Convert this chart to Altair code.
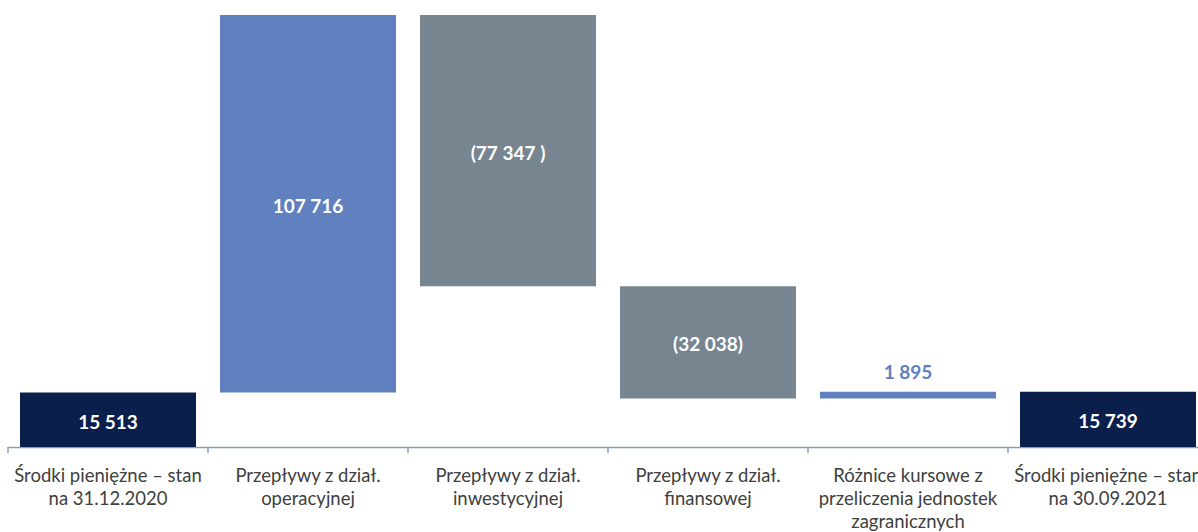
import altair as alt
import pandas as pd

categories = [
    "Środki pieniężne – stan\nna 31.12.2020",
    "Przepływy z dział.\noperacyjnej",
    "Przepływy z dział.\ninwestycyjnej",
    "Przepływy z dział.\nfinansowej",
    "Różnice kursowe z\nprzeliczenia jednostek\nzagranicznych",
    "Środki pieniężne – stan\nna 30.09.2021",
]
values = [15513, 107716, -77347, -32038, 1895, 15739]
is_total = [True, False, False, False, False, True]
value_labels = ["15 513", "107 716", "(77 347 )", "(32 038)", "1 895", "15 739"]

rows = []
running = 0
for cat, v, t, lab in zip(categories, values, is_total, value_labels):
    if t:
        start, end = 0, v
    else:
        start, end = running, running + v
    running = end
    kind = "total" if t else ("increase" if v > 0 else "decrease")
    rows.append({"cat": cat, "value": v, "start": start, "end": end,
                 "mid": (start + end) / 2, "kind": kind, "label": lab})
df = pd.DataFrame(rows)

FONT = "Lato"
x_scale = alt.Scale(range=[0, 1200], paddingInner=0.12, paddingOuter=0.06)
y_scale = alt.Scale(domain=[0, 127500], nice=False, zero=True)

base = alt.Chart(df)

x_enc = alt.X(
    "cat:N", sort=categories, scale=x_scale, title=None,
    axis=alt.Axis(
        labelAngle=0, ticks=False, domainColor="#8aa0b4", domainWidth=1.5,
        labelExpr="split(datum.label, '\\n')", labelFont=FONT, labelFontSize=18.5,
        labelColor="#404040", labelLineHeight=23, labelPadding=19,
        labelLimit=0, labelBaseline="top", grid=False,
    ),
)

bars = base.mark_bar(strokeWidth=0).encode(
    x=x_enc,
    y=alt.Y("start:Q", scale=y_scale, axis=None),
    y2="end:Q",
    color=alt.Color(
        "kind:N",
        scale=alt.Scale(domain=["total", "increase", "decrease"],
                        range=["#0b1f4d", "#6180bf", "#778591"]),
        legend=None,
    ),
)

ticks = base.mark_rule(xOffset=-12, color="#8aa0b4", strokeWidth=1.5).encode(
    x=alt.X("cat:N", sort=categories, bandPosition=0),
    y=alt.value(447),
    y2=alt.value(453),
)

inside = base.transform_filter("abs(datum.value) > 5000").mark_text(
    font=FONT, fontSize=19, fontWeight="bold", color="white", baseline="middle", dy=3
).encode(
    x=alt.X("cat:N", sort=categories),
    y=alt.Y("mid:Q"),
    text="label:N",
)

outside = base.transform_filter("abs(datum.value) <= 5000").mark_text(
    font=FONT, fontSize=19, fontWeight="bold", color="#6180bf", baseline="middle", dy=-19
).encode(
    x=alt.X("cat:N", sort=categories),
    y=alt.Y("end:Q"),
    text="label:N",
)

chart = alt.layer(bars, ticks, inside, outside).properties(
    width=1190, height=447,
    autosize=alt.AutoSizeParams(type="none"),
    padding={"left": 8, "top": 0, "right": 0, "bottom": 85},
).configure_view(stroke=None)

chart.save("out.html", embed_options={"renderer": "svg", "actions": False})
